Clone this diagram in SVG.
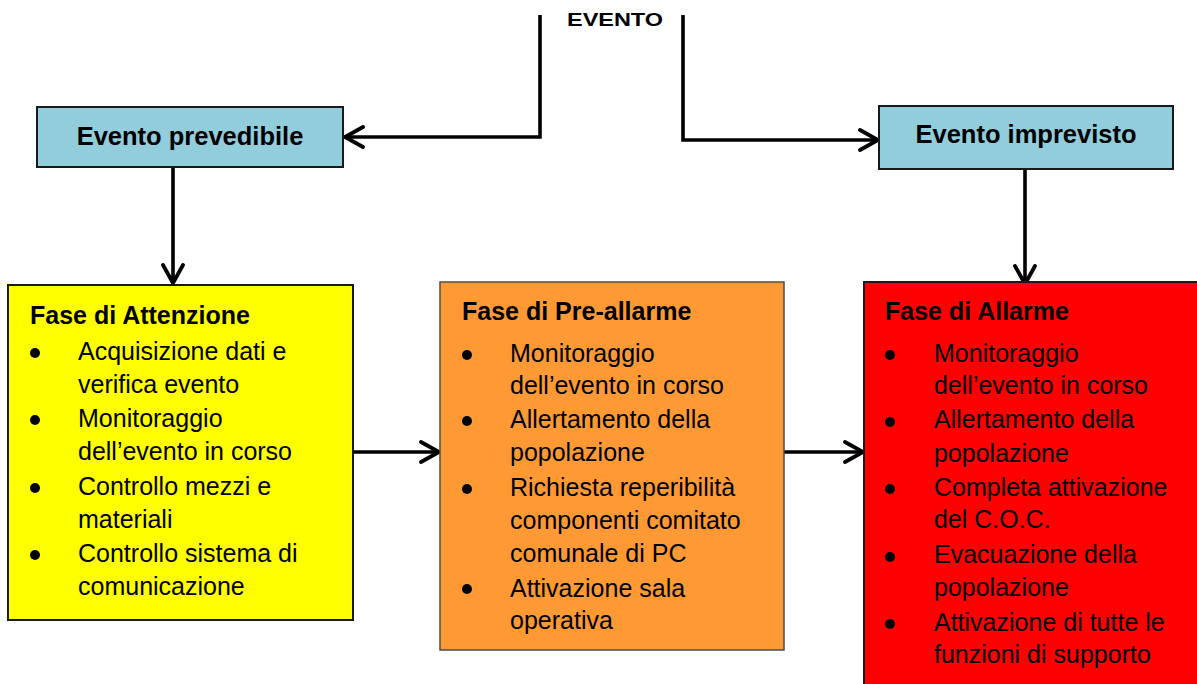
<svg xmlns="http://www.w3.org/2000/svg" width="1197" height="684" viewBox="0 0 1197 684">
<style>
.box{stroke:#1a1a1a;stroke-width:2}
.t{font-family:"Liberation Sans",Arial,sans-serif;font-size:25px;fill:#000}
.b{font-weight:bold}
.c{stroke:#000;stroke-width:3.6;fill:none}
.dot{fill:#000}
</style>
<defs>
<marker id="ah" markerUnits="userSpaceOnUse" markerWidth="26" markerHeight="26" refX="20" refY="12" orient="auto">
<path d="M2,2 L20,12 L2,22" fill="none" stroke="#000" stroke-width="3.8" stroke-linecap="round" stroke-linejoin="miter"/>
</marker>
</defs>
<rect width="1197" height="684" fill="#fff"/>

<g id="evento">
<text class="t b" x="567" y="26" textLength="96" lengthAdjust="spacingAndGlyphs" style="font-size:19px">EVENTO</text>
</g>

<g id="connectors">
<path class="c" d="M540,15 V137 H345" marker-end="url(#ah)"/>
<path class="c" d="M683,15 V140 H878" marker-end="url(#ah)"/>
<path class="c" d="M173,167 V283" marker-end="url(#ah)"/>
<path class="c" d="M1025,169 V284" marker-end="url(#ah)"/>
<path class="c" d="M353,452 H439" marker-end="url(#ah)"/>
<path class="c" d="M784,452 H863" marker-end="url(#ah)"/>
</g>

<g id="evento-prevedibile">
<rect class="box" x="37" y="107" width="306" height="60" fill="#92CDDC"/>
<text class="t b" x="190" y="145" text-anchor="middle" style="font-size:25.5px">Evento prevedibile</text>
</g>

<g id="evento-imprevisto">
<rect class="box" x="879" y="106" width="294" height="63" fill="#92CDDC"/>
<text class="t b" x="1026" y="143" text-anchor="middle" style="font-size:25.5px">Evento imprevisto</text>
</g>

<g id="fase-attenzione">
<rect class="box" x="8" y="285" width="345" height="335" fill="#FFFF00"/>
<text class="t b" x="30" y="324">Fase di Attenzione</text>
<circle class="dot" cx="35" cy="353" r="5"/>
<circle class="dot" cx="35" cy="420" r="5"/>
<circle class="dot" cx="35" cy="488" r="5"/>
<circle class="dot" cx="35" cy="555" r="5"/>
<text class="t" x="78" y="360">Acquisizione dati e</text>
<text class="t" x="78" y="393">verifica evento</text>
<text class="t" x="78" y="427">Monitoraggio</text>
<text class="t" x="78" y="460">dell’evento in corso</text>
<text class="t" x="78" y="495">Controllo mezzi e</text>
<text class="t" x="78" y="528">materiali</text>
<text class="t" x="78" y="562">Controllo sistema di</text>
<text class="t" x="78" y="595">comunicazione</text>
</g>

<g id="fase-preallarme">
<rect x="440" y="282" width="344" height="368" fill="#FF9933" stroke="#4d4d4d" stroke-width="1.5"/>
<text class="t b" x="462" y="320">Fase di Pre-allarme</text>
<circle class="dot" cx="467" cy="355" r="5"/>
<circle class="dot" cx="467" cy="421" r="5"/>
<circle class="dot" cx="467" cy="489" r="5"/>
<circle class="dot" cx="467" cy="589" r="5"/>
<text class="t" x="510" y="362">Monitoraggio</text>
<text class="t" x="510" y="394">dell’evento in corso</text>
<text class="t" x="510" y="428">Allertamento della</text>
<text class="t" x="510" y="461">popolazione</text>
<text class="t" x="510" y="496">Richiesta reperibilità</text>
<text class="t" x="510" y="529">componenti comitato</text>
<text class="t" x="510" y="562">comunale di PC</text>
<text class="t" x="510" y="597">Attivazione sala</text>
<text class="t" x="510" y="629">operativa</text>
</g>

<g id="fase-allarme">
<rect class="box" x="864" y="282" width="345" height="420" fill="#FF0000"/>
<text class="t b" x="885" y="320">Fase di Allarme</text>
<circle class="dot" cx="890" cy="355" r="5"/>
<circle class="dot" cx="890" cy="422" r="5"/>
<circle class="dot" cx="890" cy="489" r="5"/>
<circle class="dot" cx="890" cy="557" r="5"/>
<circle class="dot" cx="890" cy="624" r="5"/>
<text class="t" x="934" y="362">Monitoraggio</text>
<text class="t" x="934" y="394">dell’evento in corso</text>
<text class="t" x="934" y="428">Allertamento della</text>
<text class="t" x="934" y="462">popolazione</text>
<text class="t" x="934" y="496">Completa attivazione</text>
<text class="t" x="934" y="528">del C.O.C.</text>
<text class="t" x="934" y="563">Evacuazione della</text>
<text class="t" x="934" y="596">popolazione</text>
<text class="t" x="934" y="631">Attivazione di tutte le</text>
<text class="t" x="934" y="663">funzioni di supporto</text>
</g>
</svg>
